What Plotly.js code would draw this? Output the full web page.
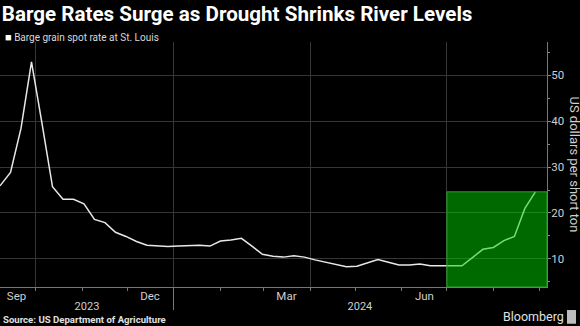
<!DOCTYPE html>
<html>
<head>
<meta charset="utf-8">
<script src="https://cdn.plot.ly/plotly-3.0.1.min.js"></script>
<style>
  html, body { margin: 0; padding: 0; background: #000; }
  #chart { width: 580px; height: 326px; }
</style>
</head>
<body>
<div id="chart"></div>
<script>
// ---- data ----
const dates = [
  '2023-09-07','2023-09-14','2023-09-21','2023-09-28','2023-10-05','2023-10-12','2023-10-19','2023-10-26',
  '2023-11-02','2023-11-09','2023-11-16','2023-11-23','2023-11-30','2023-12-07','2023-12-14','2023-12-21','2023-12-28',
  '2024-01-04','2024-01-11','2024-01-18','2024-01-25','2024-02-01','2024-02-08','2024-02-15','2024-02-22','2024-02-29',
  '2024-03-07','2024-03-14','2024-03-21','2024-03-28','2024-04-04','2024-04-11','2024-04-18','2024-04-25',
  '2024-05-02','2024-05-09','2024-05-16','2024-05-23','2024-05-30','2024-06-06','2024-06-13','2024-06-20','2024-06-27',
  '2024-07-04','2024-07-11','2024-07-18','2024-07-25','2024-08-01','2024-08-08','2024-08-15','2024-08-22','2024-08-29'
];
const spotRate = [
  25.9, 28.8, 38.4, 52.9, 39.5, 25.7, 23.0, 23.0, 22.0, 18.6,
  17.9, 15.8, 14.9, 13.8, 13.0, 12.8, 12.7, 12.8, 12.9, 13.0,
  12.8, 13.9, 14.1, 14.5, 12.8, 11.0, 10.6, 10.4, 10.7, 10.4,
  9.8, 9.3, 8.9, 8.3, 8.4, 9.1, 9.9, 9.3, 8.7, 8.7,
  8.9, 8.5, 8.5, 8.5, 8.5, 10.3, 12.1, 12.5, 14.0, 14.9,
  21.0, 24.6
];
const seriesName = 'Barge grain spot rate at St. Louis';
const quarterStarts = ['2023-10-01','2024-01-01','2024-04-01','2024-07-01'];
const monthStarts = ['2023-10-01','2023-11-01','2023-12-01','2024-01-01','2024-02-01','2024-03-01',
                     '2024-04-01','2024-05-01','2024-06-01','2024-07-01','2024-08-01','2024-09-01'];
const monthTickVals = ['2023-09-18','2023-12-16','2024-03-16','2024-06-16'];
const monthTickText = ['Sep','Dec','Mar','Jun'];
const yearTickVals = ['2023-11-04','2024-05-04'];
const yearTickText = ['2023','2024'];
const yearBoundary = ['2024-01-01'];
const yTickVals = [10, 20, 30, 40, 50];
const highlightStart = '2024-07-01';
const xRange = ['2023-09-07', '2024-09-05 18:00'];
const yRange = [3.9, 57.2];

const FONT = 'Roboto, "Liberation Sans", Arial, sans-serif';

const traces = [
  { x: dates, y: spotRate, type: 'scatter', mode: 'lines', name: seriesName,
    line: { color: '#e8e8e8', width: 1.5 }, showlegend: false, hoverinfo: 'x+y' },
  { x: dates, y: spotRate, type: 'scatter', mode: 'lines', xaxis: 'x2', yaxis: 'y',
    line: { color: 'rgba(0,0,0,0)', width: 0 }, showlegend: false, hoverinfo: 'skip' },
  { x: dates, y: spotRate, type: 'scatter', mode: 'lines', xaxis: 'x3', yaxis: 'y',
    line: { color: 'rgba(0,0,0,0)', width: 0 }, showlegend: false, hoverinfo: 'skip' }
];

const layout = {
  width: 580, height: 326,
  paper_bgcolor: '#000', plot_bgcolor: '#000',
  margin: { l: 0, r: 33, t: 42, b: 39 },
  font: { family: FONT, color: '#cfcfcf', size: 11 },
  showlegend: false,
  title: {
    text: '<b>Barge Rates Surge as Drought Shrinks River Levels</b>',
    x: 0.003, xanchor: 'left', xref: 'container',
    y: 0.957, yanchor: 'middle', yref: 'container',
    font: { family: FONT, size: 20.6, color: '#ffffff' }
  },
  xaxis: {
    type: 'date', range: xRange, fixedrange: true,
    tickmode: 'array', tickvals: quarterStarts, showticklabels: false,
    showgrid: true, gridcolor: '#363636', gridwidth: 1,
    ticks: 'outside', ticklen: 3, tickcolor: '#777', tickwidth: 1,
    minor: { tickmode: 'array', tickvals: monthStarts, ticks: 'outside', ticklen: 3,
             tickcolor: '#777', showgrid: false },
    showline: true, linecolor: '#777', linewidth: 1, zeroline: false
  },
  xaxis2: {
    type: 'date', overlaying: 'x', matches: 'x', range: xRange, side: 'bottom', anchor: 'y',
    tickmode: 'array', tickvals: monthTickVals, ticktext: monthTickText,
    ticks: '', showgrid: false, showline: false, zeroline: false,
    tickfont: { family: FONT, size: 11.5, color: '#cfcfcf' }
  },
  xaxis3: {
    type: 'date', overlaying: 'x', matches: 'x', range: xRange, side: 'bottom', anchor: 'y',
    tickmode: 'array', tickvals: yearTickVals, ticktext: yearTickText,
    ticks: '', ticklabelstandoff: 11, showgrid: false, showline: false, zeroline: false,
    minor: { tickmode: 'array', tickvals: yearBoundary, ticks: 'outside', ticklen: 22,
             tickcolor: '#777', tickwidth: 1, showgrid: false },
    tickfont: { family: FONT, size: 11, color: '#cfcfcf' }
  },
  yaxis: {
    side: 'right', range: yRange, fixedrange: true,
    tickmode: 'array', tickvals: yTickVals,
    ticks: 'outside', ticklen: 3, tickcolor: '#888', ticklabelstandoff: -2,
    minor: { dtick: 5, tick0: 0, ticks: 'outside', ticklen: 2, tickcolor: '#888', showgrid: false },
    showgrid: true, gridcolor: '#363636', zeroline: false,
    showline: true, linecolor: '#777', linewidth: 1,
    tickfont: { family: FONT, size: 11.5, color: '#cfcfcf' }
  },
  shapes: [
    { type: 'rect', layer: 'above', xref: 'x', yref: 'y',
      x0: highlightStart, x1: xRange[1], y0: yRange[0], y1: spotRate[spotRate.length - 1],
      fillcolor: 'rgba(0,210,0,0.5)', line: { color: 'rgb(45,160,45)', width: 1 } },
    // small Bloomberg mark
    { type: 'rect', layer: 'above', xref: 'paper', yref: 'paper',
      x0: 1.0365, x1: 1.0530, y0: -0.150, y1: -0.094, fillcolor: '#bdbdbd', line: { width: 0 } }
  ],
  annotations: [
    { xref: 'paper', yref: 'paper', x: 1, y: 0.5, xshift: 27, xanchor: 'center', yanchor: 'middle',
      textangle: 90, showarrow: false, text: 'US dollars per short ton',
      font: { family: FONT, size: 13, color: '#cfcfcf' } },
    { xref: 'paper', yref: 'paper', x: 0, y: 1.0204, xshift: 3, xanchor: 'left', yanchor: 'middle',
      showarrow: false, text: '<span style="font-size:11px;color:#ffffff">■</span> ' + seriesName,
      font: { family: FONT, size: 10, color: '#d8d8d8' } },
    { xref: 'paper', yref: 'paper', x: 0, y: -0.1322, xshift: 2, xanchor: 'left', yanchor: 'middle',
      showarrow: false, borderpad: 0, text: '<b>Source: US Department of Agriculture</b>',
      font: { family: FONT, size: 9.6, color: '#e0e0e0' } },
    { xref: 'paper', yref: 'paper', x: 1, y: -0.1224, xshift: 18, xanchor: 'right', yanchor: 'middle',
      showarrow: false, borderpad: 0, text: 'Bloomberg',
      font: { family: FONT, size: 12.5, color: '#e0e0e0' } }
  ]
};

Plotly.newPlot('chart', traces, layout, { displayModeBar: false, staticPlot: true });
</script>
</body>
</html>
